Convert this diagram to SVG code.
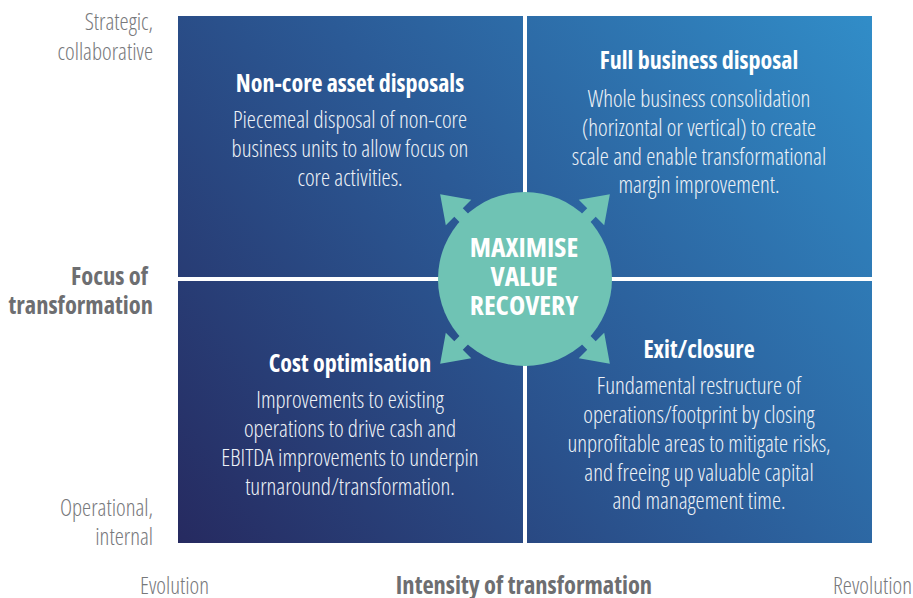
<svg xmlns="http://www.w3.org/2000/svg" width="913" height="598" viewBox="0 0 913 598">
<defs>
<linearGradient id="bg" gradientUnits="userSpaceOnUse" x1="178" y1="543" x2="871" y2="16">
<stop offset="0" stop-color="#262a60"/>
<stop offset="0.5" stop-color="#2b5a96"/>
<stop offset="1" stop-color="#318dc8"/>
</linearGradient>
<polygon id="arr" points="80,-6 94,-6 94,-18 120,0 94,18 94,6 80,6"/>
</defs>
<style>
.q{fill:url(#bg)}
text{font-family:"Open Sans","Liberation Sans Narrow","DejaVu Sans Condensed",sans-serif;font-stretch:condensed}
.t{fill:#ffffff;font-size:24px;font-weight:700;text-anchor:middle}
.b{fill:#eef2f7;font-size:23px;font-weight:300;text-anchor:middle}
.ax{fill:#77787b;font-size:23px;font-weight:300}
.axb{fill:#6d6e71;font-size:24.5px;font-weight:700}
.c{fill:#ffffff;font-size:27.5px;font-weight:700;text-anchor:middle}
</style>
<g id="quadrants">
<rect class="q" x="178" y="16" width="345" height="261"/>
<rect class="q" x="527" y="16" width="345" height="261"/>
<rect class="q" x="178" y="281" width="345" height="262"/>
<rect class="q" x="527" y="281" width="345" height="262"/>
</g>
<g id="axis-labels">
<text class="ax" x="153" y="30" text-anchor="end">Strategic,</text>
<text class="ax" x="153" y="60" text-anchor="end">collaborative</text>
<text class="axb" x="148" y="285" text-anchor="end">Focus of</text>
<text class="axb" x="153" y="314" text-anchor="end">transformation</text>
<text class="ax" x="153" y="516" text-anchor="end">Operational,</text>
<text class="ax" x="153" y="545" text-anchor="end">internal</text>
<text class="ax" x="140" y="594">Evolution</text>
<text class="axb" x="524" y="594" text-anchor="middle">Intensity of transformation</text>
<text class="ax" x="912" y="594" text-anchor="end">Revolution</text>
</g>
<g id="q-noncore">
<text class="t" x="350" y="92">Non-core asset disposals</text>
<text class="b" x="350" y="128">Piecemeal disposal of non-core</text>
<text class="b" x="350" y="157">business units to allow focus on</text>
<text class="b" x="350" y="186">core activities.</text>
</g>
<g id="q-full">
<text class="t" x="699" y="69">Full business disposal</text>
<text class="b" x="699" y="107">Whole business consolidation</text>
<text class="b" x="699" y="136">(horizontal or vertical) to create</text>
<text class="b" x="699" y="165">scale and enable transformational</text>
<text class="b" x="699" y="193">margin improvement.</text>
</g>
<g id="q-cost">
<text class="t" x="350" y="372">Cost optimisation</text>
<text class="b" x="350" y="408">Improvements to existing</text>
<text class="b" x="350" y="437">operations to drive cash and</text>
<text class="b" x="350" y="466">EBITDA improvements to underpin</text>
<text class="b" x="350" y="495">turnaround/transformation.</text>
</g>
<g id="q-exit">
<text class="t" x="699" y="358">Exit/closure</text>
<text class="b" x="699" y="394">Fundamental restructure of</text>
<text class="b" x="699" y="423">operations/footprint by closing</text>
<text class="b" x="699" y="452">unprofitable areas to mitigate risks,</text>
<text class="b" x="699" y="481">and freeing up valuable capital</text>
<text class="b" x="699" y="509">and management time.</text>
</g>
<g id="center" fill="#6fc3b4">
<use href="#arr" transform="translate(525,279) rotate(-135)"/>
<use href="#arr" transform="translate(525,279) rotate(-45)"/>
<use href="#arr" transform="translate(525,279) rotate(45)"/>
<use href="#arr" transform="translate(525,279) rotate(135)"/>
<circle cx="525" cy="279" r="87"/>
<text class="c" x="524" y="257">MAXIMISE</text>
<text class="c" x="524" y="286">VALUE</text>
<text class="c" x="524" y="315">RECOVERY</text>
</g>
</svg>
